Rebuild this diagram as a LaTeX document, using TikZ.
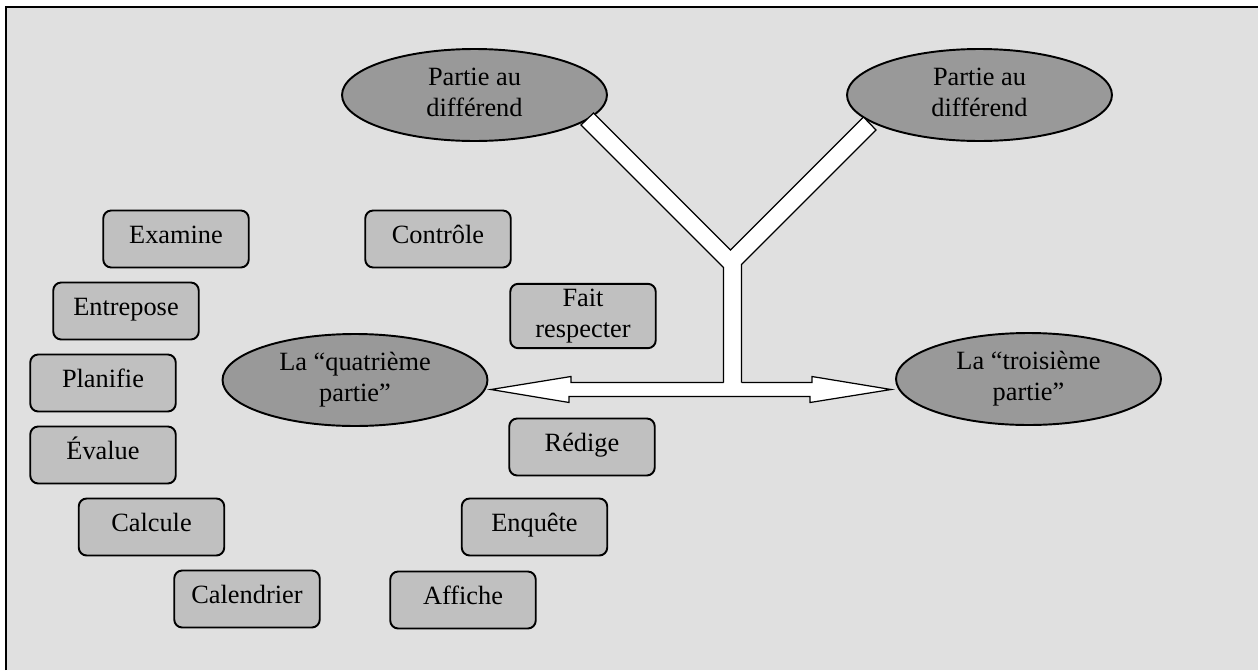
\documentclass[tikz,border=0pt]{standalone}
\usepackage{fontspec}
\setmainfont{Liberation Serif}
\usetikzlibrary{shapes.geometric,calc}
\definecolor{fondgris}{HTML}{E0E0E0}
\definecolor{boitegris}{HTML}{C0C0C0}
\definecolor{ovalgris}{HTML}{999999}

\begin{document}
\begin{tikzpicture}[x=0.02cm,y=-0.02cm,
    boite/.style={draw,line width=1.1pt,rounded corners=4.5pt,fill=boitegris,
        minimum width=2.91cm,minimum height=1.14cm,inner sep=3pt,align=center,
        text height=10.5pt,text depth=5pt,font=\fontsize{15}{17.5}\selectfont},
    ovale/.style={ellipse,draw,line width=1.1pt,fill=ovalgris,minimum width=5.3cm,
        minimum height=1.84cm,inner sep=0pt,align=center,text depth=0.12cm,
        font=\fontsize{15}{17.5}\selectfont},
    fleche/.style={draw,line width=0.7pt,fill=white,line join=miter}]
        \useasboundingbox (0,0) rectangle (1258,670);

        % Draw the grey background and its frame
        \fill[white] (0,0) rectangle (1258,670);
        \fill[fondgris] (6,7) rectangle (1258,670);
        \draw[line width=1.3pt] (6.2,670) -- (6.2,7) -- (1258,7);

        % Draw the four parties
        \node[ovale] (pda) at (474.5,95) {Partie au\\différend};
        \node[ovale] (pdb) at (979.5,95) {Partie au\\différend};
        \node[ovale] (quat) at (355,380) {La “quatrième\\partie”};
        \node[ovale] (troi) at (1028.5,379) {La “troisième\\partie”};

        % Draw the tasks on the left
        \node[boite] (examine) at (176,239) {Examine};
        \node[boite] (entrepose) at (126,311) {Entrepose};
        \node[boite] (planifie) at (103,383) {Planifie};
        \node[boite] (evalue) at (103,455) {Évalue};
        \node[boite] (calcule) at (151.5,527) {Calcule};
        \node[boite] (calendrier) at (247,599) {Calendrier};

        % Draw the tasks in the middle
        \node[boite] (controle) at (438,239) {Contrôle};
        \node[boite,text height=,text depth=] (respecter) at (583,316) {Fait\\respecter};
        \node[boite] (redige) at (582,447) {Rédige};
        \node[boite] (enquete) at (534.5,527) {Enquête};
        \node[boite] (affiche) at (463,600) {Affiche};

        % Draw the double arrow between the third and fourth parties
        \coordinate (gauche) at ($(quat.east)+(2.5,9.5)$);
        \coordinate (droite) at ($(troi.west)+(-4,10.5)$);
        \draw[fleche] (gauche) -- ++(80,-13) -- ++(0,6) -- ++(241,0) -- ++(0,-6)
            -- (droite) -- ++(-81,13) -- ++(0,-6) -- ++(-241,0) -- ++(0,6) -- cycle;

        % Draw the Y joining the two parties to the arrow
        \fill[white] (581,125) -- (723.5,267.5) -- (723.5,384) -- (741.5,384)
            -- (741.5,264.5) -- (876,130) -- (863.5,117) -- (730.5,250)
            -- (593.5,113) -- cycle;
        \draw[line width=0.7pt,line join=miter] (723.5,382.5) -- (723.5,267.5)
            -- (581,125) -- (593.5,113) -- (730.5,250) -- (863.5,117)
            -- (876,130) -- (741.5,264.5) -- (741.5,382.5);
    \end{tikzpicture}
\end{document}
